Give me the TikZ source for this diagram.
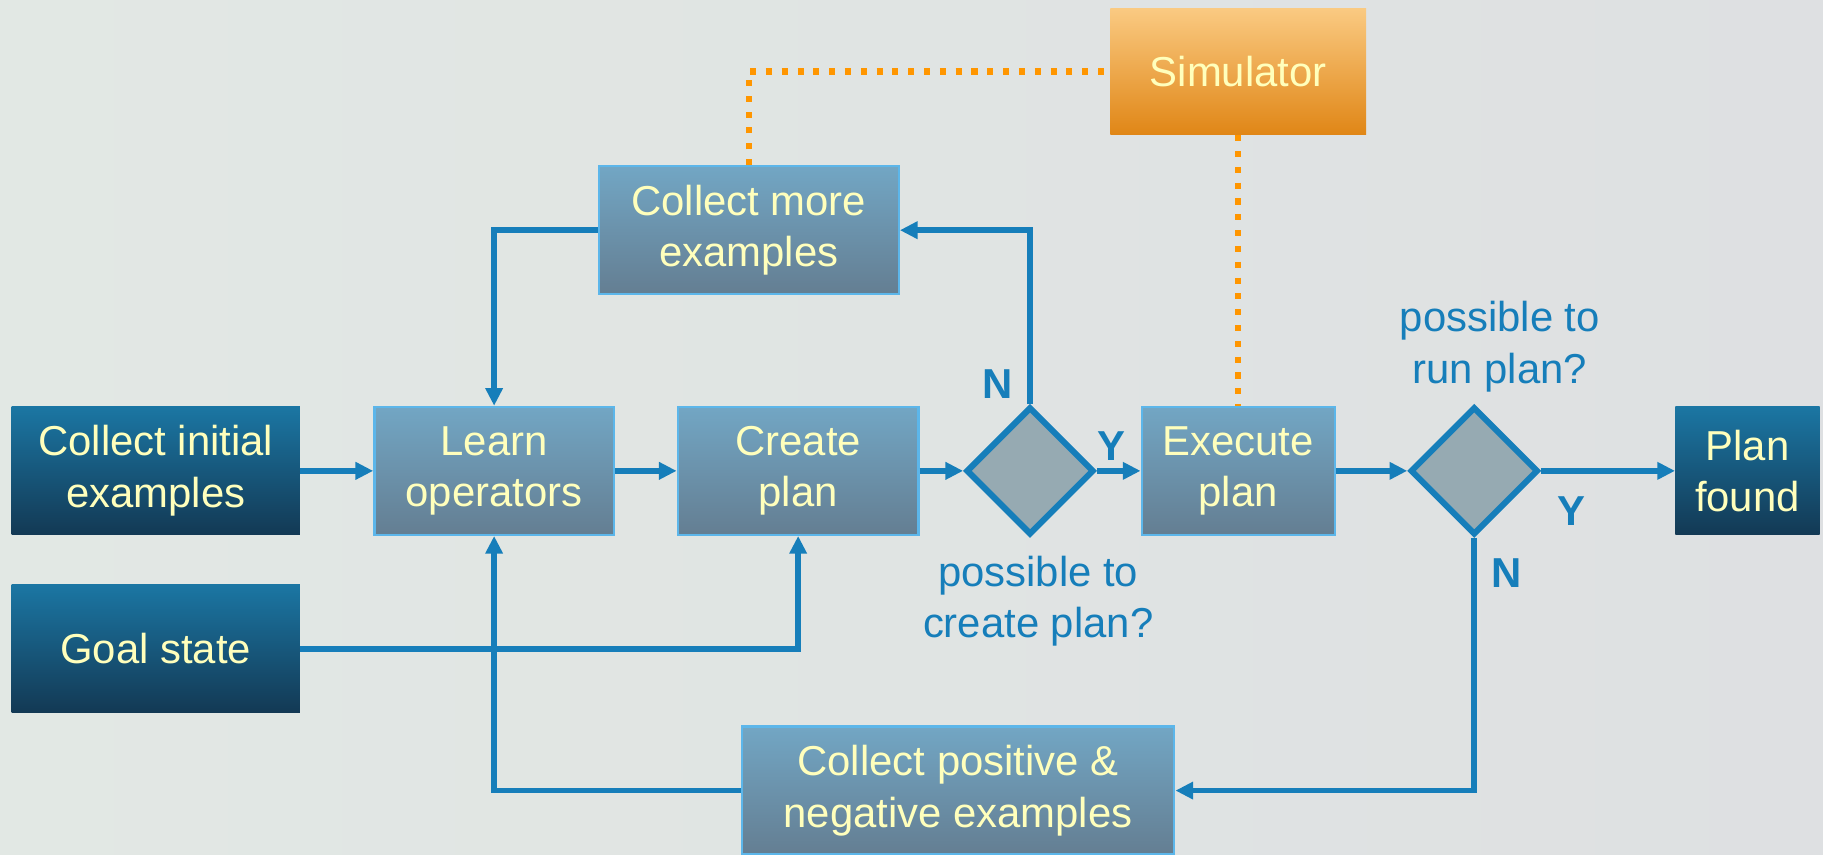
\documentclass[tikz,border=0pt]{standalone}
\usepackage{fontspec}
\setmainfont{Liberation Sans}
\usetikzlibrary{shapes.geometric,arrows.meta}
\definecolor{flowblue}{RGB}{22,126,186}
\definecolor{txtyellow}{RGB}{255,255,188}
\definecolor{darktop}{RGB}{27,118,163}
\definecolor{darkbot}{RGB}{19,57,84}
\definecolor{midtop}{RGB}{114,166,196}
\definecolor{midbot}{RGB}{100,126,146}
\definecolor{midedge}{RGB}{92,182,234}
\definecolor{diafill}{RGB}{150,170,178}
\definecolor{simtop}{RGB}{250,202,130}
\definecolor{simbot}{RGB}{224,134,22}
\definecolor{simdot}{RGB}{255,150,0}
\definecolor{bgleft}{RGB}{226,232,228}
\definecolor{bgmid}{RGB}{216,218,230}
\definecolor{bgright}{RGB}{222,224,226}
\begin{document}
\begin{tikzpicture}[x=0.025cm,y=-0.025cm,font=\fontsize{25.6}{31.5}\selectfont,
	arrow/.style={-{Triangle[length=0.38cm,width=0.36cm]},line width=0.12cm,draw=flowblue},
	darkbox/.style={rectangle,top color=darktop,bottom color=darkbot,text=txtyellow,align=center,minimum height=2.75cm,inner sep=0pt},
	midbox/.style={rectangle,top color=midtop,bottom color=midbot,draw=midedge,line width=0.05cm,text=txtyellow,align=center,minimum height=2.75cm,inner sep=0pt},
	decide/.style={diamond,draw=flowblue,line width=0.13cm,fill=diafill,minimum width=2.75cm,minimum height=2.75cm,inner sep=0pt},
	simlink/.style={draw=simdot,line width=0.13cm,dash pattern=on 0.13cm off 0.21cm},
	yn/.style={text=flowblue,font=\fontsize{25.6}{31}\selectfont\bfseries},
	ask/.style={text=flowblue,align=center}]
	\useasboundingbox (0,0) rectangle (1568,735);
	\fill[left color=bgleft,middle color=bgmid,right color=bgright] (0,0) rectangle (1568,735);
	
	\foreach \ten/\vtri/\rong/\nhan in {init/{134,405}/6.2cm/{Collect initial\\examples},goal/{134,558}/6.2cm/{Goal state},found/{1503,405}/3.1cm/{Plan\\found}}
	\node[darkbox,minimum width=\rong] (\ten) at (\vtri) {\nhan};
	\foreach \ten/\vtri/\rong/\nhan in {learn/{425,405}/5.15cm/{Learn\\operators},create/{686.5,405}/5.175cm/{Create\\plan},exec/{1065,405}/4.15cm/{Execute\\plan},more/{644,198}/6.45cm/{Collect more\\examples},posneg/{824,680}/9.3cm/{Collect positive \&\\negative examples}}
	\node[midbox,minimum width=\rong] (\ten) at (\vtri) {\nhan};
	\node[rectangle,top color=simtop,bottom color=simbot,text=txtyellow,minimum width=5.5cm,minimum height=2.725cm,inner sep=0pt] (sim) at (1065,61.5) {Simulator};
	\node[decide] (d1) at (886,405) {};
	\node[decide] (d2) at (1268,405) {};
	
	\draw[simlink] (more.north) |- (sim.west);
	\draw[simlink] (sim.south) -- (exec.north);
	
	\draw[arrow] (init) -- (learn);
	\draw[arrow] (learn) -- (create);
	\draw[arrow] (create) -- (d1);
	\draw[arrow] (d1) -- (exec);
	\draw[arrow] (exec) -- (d2);
	\draw[arrow] (d2) -- (found);
	\draw[arrow] (d1.north) |- (more.east);
	\draw[arrow] (more.west) -| (learn.north);
	\draw[arrow] (goal.east) -| (create.south);
	\draw[arrow] (posneg.west) -| (learn.south);
	\draw[arrow] (d2.south) |- (posneg.east);
	
	\node[yn] (n1) at (858,330) {N};
	\node[yn] (y1) at (956,384) {Y};
	\node[yn] (y2) at (1352,440) {Y};
	\node[yn] (n2) at (1296,493) {N};
	\node[ask] (q1) at (893,517) {possible to\\create plan?};
	\node[ask] (q2) at (1290,298) {possible to\\run plan?};
\end{tikzpicture}
\end{document}
